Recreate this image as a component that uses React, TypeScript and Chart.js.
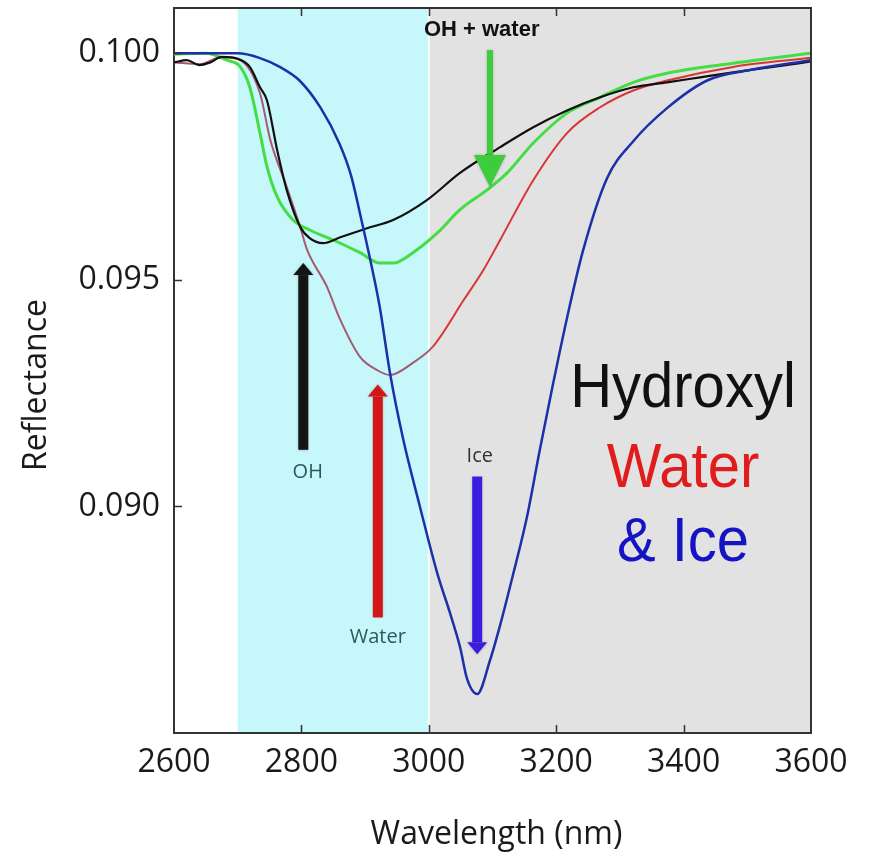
import { useEffect, useRef } from "react";
import { Chart, registerables } from "chart.js";
Chart.register(...registerables);

// ---------- data ----------
const iceX = [2600, 2700, 2734, 2766, 2797, 2830, 2860, 2878, 2893, 2908, 2923, 2939, 2960, 2986, 3013, 3033, 3049, 3060, 3076, 3096, 3112, 3132, 3154, 3174, 3195, 3217, 3242, 3280, 3321, 3374, 3437, 3504, 3600];
const iceY = [0.1, 0.1, 0.0999, 0.0997, 0.0994, 0.0988, 0.0980, 0.0973, 0.0964, 0.09545, 0.0944, 0.09295, 0.09147, 0.09, 0.08854, 0.08766, 0.0869, 0.0862, 0.08586, 0.0866, 0.08738, 0.08848, 0.08976, 0.09123, 0.0927, 0.09416, 0.09564, 0.09725, 0.09806, 0.09879, 0.0994, 0.09963, 0.09985];

const hydroxylX = [2600, 2620, 2640, 2657, 2675, 2700, 2719, 2735, 2746, 2762, 2777, 2798, 2813, 2834, 2861, 2903, 2944, 2997, 3049, 3112, 3164, 3217, 3269, 3321, 3374, 3426, 3478, 3540, 3600];
const hydroxylY = [0.0998, 0.09985, 0.09974, 0.0998, 0.09992, 0.09988, 0.0997, 0.09925, 0.09896, 0.09786, 0.09698, 0.09617, 0.09592, 0.09581, 0.09594, 0.09614, 0.09632, 0.09676, 0.09736, 0.09793, 0.09837, 0.09874, 0.09903, 0.09925, 0.09936, 0.09947, 0.09958, 0.0997, 0.09982];

const waterX = [2600, 2640, 2675, 2704, 2735, 2751, 2777, 2798, 2809, 2840, 2860, 2892, 2920, 2939, 2975, 3006, 3055, 3085, 3112, 3164, 3217, 3269, 3321, 3374, 3478, 3600];
const waterY = [0.0998, 0.09976, 0.09992, 0.09985, 0.09912, 0.0981, 0.09705, 0.09617, 0.09566, 0.09485, 0.09415, 0.0933, 0.093, 0.0929, 0.09317, 0.09352, 0.09456, 0.0952, 0.09588, 0.0972, 0.09824, 0.09881, 0.09918, 0.0994, 0.0997, 0.0999];

const mixX = [2600, 2650, 2683, 2704, 2719, 2735, 2746, 2762, 2787, 2813, 2850, 2892, 2923, 2944, 2975, 3013, 3049, 3091, 3123, 3164, 3217, 3269, 3321, 3374, 3478, 3600];
const mixY = [0.09998, 0.1, 0.09985, 0.0997, 0.09925, 0.09824, 0.0975, 0.09683, 0.09632, 0.0961, 0.09588, 0.0956, 0.09537, 0.09537, 0.0956, 0.09603, 0.09655, 0.09698, 0.09736, 0.09802, 0.09868, 0.09903, 0.09936, 0.09956, 0.09978, 0.1];

const xTicks = [2600, 2800, 3000, 3200, 3400, 3600];
const yTicks = [0.09, 0.095, 0.1];

// shaded wavelength bands
const bandFrom = [2700, 3000];
const bandTo = [3000, 3600];

// annotation arrows (data units)
const arrowX = [2803, 2920, 3076, 3096];
const arrowTail = [0.09125, 0.08755, 0.09066, 0.10007];
const arrowTip = [0.09537, 0.09269, 0.08674, 0.09705];

const labelText = ["OH", "Water", "Ice", "OH + water"];
const labelX = [2810, 2920, 3080, 3083];
const labelY = [0.09075, 0.08711, 0.0911, 0.10051];

const bigText = ["Hydroxyl", "Water", "& Ice"];
const bigX = [3399, 3399, 3399];
const bigY = [0.0922, 0.09044, 0.08879];

const zip = (xs: number[], ys: number[]) => xs.map((x, i) => ({ x, y: ys[i] }));

const arrowStyle = [
  { color: "#141414", shaft: 10, headW: 20, headL: 12 },
  { color: "#d41616", shaft: 10, headW: 20, headL: 12 },
  { color: "#3a1ee0", shaft: 10, headW: 20, headL: 12 },
  { color: "#3ccc3c", shaft: 6, headW: 32, headL: 32 },
];
const labelStyle = [
  { font: '20px "Open Sans"', color: "#2b5a5a" },
  { font: '20px "Open Sans"', color: "#2b5a5a" },
  { font: '20px "Open Sans"', color: "#333333" },
  { font: 'bold 22px "Liberation Sans"', color: "#111111" },
];
const bigColors = ["#111111", "#e01c1c", "#1414c4"];
const bandColors = ["#c6f7fa", "#e2e2e2"];

const overlay = {
  id: "overlay",
  beforeDraw(chart: any) {
    const { ctx, chartArea: a, scales } = chart;
    const x = scales.x;
    ctx.save();
    ctx.fillStyle = "#ffffff";
    ctx.fillRect(0, 0, chart.width, chart.height);
    bandFrom.forEach((f, i) => {
      const x0 = x.getPixelForValue(f);
      const x1 = x.getPixelForValue(bandTo[i]);
      ctx.fillStyle = bandColors[i];
      ctx.fillRect(x0, a.top, x1 - x0, a.bottom - a.top);
    });
    const xs = x.getPixelForValue(3000);
    ctx.fillStyle = "rgba(255,255,255,0.8)";
    ctx.fillRect(xs - 1, a.top, 2, a.bottom - a.top);
    ctx.restore();
  },
  afterDraw(chart: any) {
    const { ctx, chartArea: a, scales } = chart;
    const x = scales.x;
    const y = scales.y;
    ctx.save();
    // frame
    ctx.strokeStyle = "#333333";
    ctx.lineWidth = 2;
    ctx.beginPath();
    ctx.moveTo(a.left, a.top);
    ctx.lineTo(a.right, a.top);
    ctx.lineTo(a.right, a.bottom);
    ctx.stroke();
    // inner ticks
    ctx.lineWidth = 1.5;
    ctx.beginPath();
    xTicks.slice(1, -1).forEach((v) => {
      const px = Math.round(x.getPixelForValue(v)) + 0.5;
      ctx.moveTo(px, a.bottom);
      ctx.lineTo(px, a.bottom - 8);
      ctx.moveTo(px, a.top);
      ctx.lineTo(px, a.top + 8);
    });
    yTicks.forEach((v) => {
      const py = Math.round(y.getPixelForValue(v)) + 0.5;
      ctx.moveTo(a.left, py);
      ctx.lineTo(a.left + 8, py);
    });
    ctx.stroke();

    // arrows
    arrowX.forEach((ax, i) => {
      const s = arrowStyle[i];
      const px = x.getPixelForValue(ax);
      const y0 = y.getPixelForValue(arrowTail[i]);
      const y1 = y.getPixelForValue(arrowTip[i]);
      const dir = Math.sign(y1 - y0);
      const yb = y1 - dir * s.headL;
      ctx.fillStyle = s.color;
      ctx.shadowColor = "rgba(0,0,0,0.25)";
      ctx.shadowBlur = 3;
      ctx.fillRect(px - s.shaft / 2, Math.min(y0, yb), s.shaft, Math.abs(yb - y0));
      ctx.beginPath();
      ctx.moveTo(px - s.headW / 2, yb);
      ctx.lineTo(px + s.headW / 2, yb);
      ctx.lineTo(px, y1);
      ctx.closePath();
      ctx.fill();
      ctx.shadowBlur = 0;
      ctx.shadowColor = "transparent";
    });

    // small labels
    ctx.textAlign = "center";
    ctx.textBaseline = "middle";
    labelText.forEach((t, i) => {
      ctx.font = labelStyle[i].font;
      ctx.fillStyle = labelStyle[i].color;
      ctx.fillText(t, x.getPixelForValue(labelX[i]), y.getPixelForValue(labelY[i]));
    });

    // big text
    ctx.textBaseline = "alphabetic";
    ctx.font = '58px "Liberation Sans"';
    bigText.forEach((t, i) => {
      const px = x.getPixelForValue(bigX[i]);
      const py = y.getPixelForValue(bigY[i]);
      ctx.save();
      ctx.translate(px, py);
      ctx.scale(1, 1.08);
      ctx.fillStyle = bigColors[i];
      ctx.fillText(t, 0, 0);
      ctx.restore();
    });

    // axis titles
    ctx.fillStyle = "#1a1a1a";
    ctx.font = '32px "Open Sans"';
    ctx.fillText("Wavelength (nm)", (a.left + a.right) / 2 + 4, 844);
    ctx.save();
    ctx.translate(46, 385);
    ctx.rotate(-Math.PI / 2);
    ctx.fillText("Reflectance", 0, 0);
    ctx.restore();
    ctx.restore();
  },
};

export default function App() {
  const ref = useRef<HTMLCanvasElement | null>(null);
  useEffect(() => {
    if (!ref.current) return;
    const red = "#d83636";
    const redCyan = "#a65a70";
    const chart = new Chart(ref.current, {
      type: "line",
      data: {
        datasets: [
          { label: "Ice", data: zip(iceX, iceY), borderColor: "#1c30a8", borderWidth: 2.5 },
          { label: "Hydroxyl", data: zip(hydroxylX, hydroxylY), borderColor: "#111111", borderWidth: 2.2 },
          {
            label: "Water",
            data: zip(waterX, waterY),
            borderColor: red,
            borderWidth: 2,
            segment: { borderColor: (c: any) => (c.p0.parsed.x < 3000 ? redCyan : red) },
          },
          { label: "OH + water", data: zip(mixX, mixY), borderColor: "#44dd44", borderWidth: 3 },
        ],
      },
      options: {
        responsive: false,
        animation: false,
        layout: { padding: { top: 8, right: 60, left: 0, bottom: 0 } },
        plugins: { legend: { display: false }, tooltip: { enabled: false } },
        elements: { point: { radius: 0 }, line: { cubicInterpolationMode: "monotone", fill: false } },
        scales: {
          x: {
            type: "linear",
            min: 2600,
            max: 3600,
            afterBuildTicks: (s: any) => {
              s.ticks = xTicks.map((v) => ({ value: v }));
            },
            afterFit: (s: any) => {
              s.height = 127;
            },
            grid: { display: false, drawTicks: false },
            border: { display: true, color: "#333333", width: 2 },
            ticks: {
              font: { family: "Open Sans", size: 32 },
              color: "#1a1a1a",
              padding: 11,
              maxRotation: 0,
              autoSkip: false,
              callback: (v: any) => String(v),
            },
          },
          y: {
            type: "linear",
            min: 0.085,
            max: 0.101,
            afterBuildTicks: (s: any) => {
              s.ticks = yTicks.map((v) => ({ value: v }));
            },
            afterFit: (s: any) => {
              s.width = 174;
              s.paddingTop = 0;
              s.paddingBottom = 0;
            },
            grid: { display: false, drawTicks: false },
            border: { display: true, color: "#333333", width: 2 },
            ticks: {
              font: { family: "Open Sans", size: 32 },
              color: "#1a1a1a",
              padding: 14,
              autoSkip: false,
              callback: (v: any) => Number(v).toFixed(3),
            },
          },
        },
      },
      plugins: [overlay],
    } as any);
    let alive = true;
    const fonts: any = (document as any).fonts;
    if (fonts && fonts.load) {
      Promise.all([
        fonts.load('32px "Open Sans"'),
        fonts.load('bold 22px "Liberation Sans"'),
        fonts.load('58px "Liberation Sans"'),
      ])
        .then(() => {
          if (alive) chart.update();
        })
        .catch(() => {});
    }
    return () => {
      alive = false;
      chart.destroy();
    };
  }, []);
  return (
    <div style={{ position: "absolute", left: 0, top: 0, width: 871, height: 860 }}>
      <canvas ref={ref} width={871} height={860} style={{ display: "block" }} />
    </div>
  );
}
